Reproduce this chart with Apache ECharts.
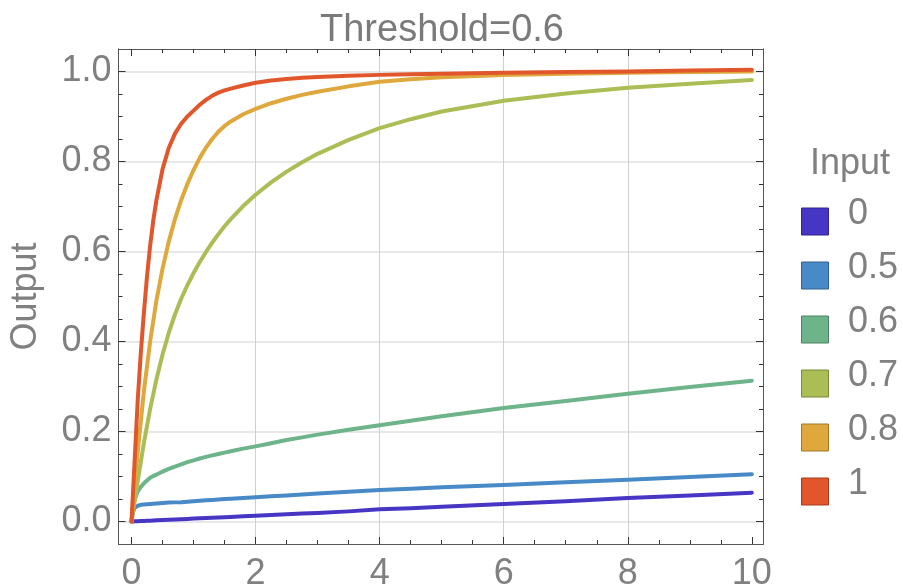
<!DOCTYPE html>
<html>
<head>
<meta charset="utf-8">
<script src="https://cdn.jsdelivr.net/npm/echarts@6/dist/echarts.min.js"></script>
<style>
  html, body { margin: 0; padding: 0; background: #fff; }
  #chart { width: 903px; height: 586px; }
</style>
</head>
<body>
<div id="chart"></div>
<script>
// Output response over time for several input levels (threshold 0.6)
const titleText = 'Threshold=0.6';
const legendTitle = 'Input';
const yName = 'Output';

const xs = [0, 0.02, 0.05, 0.1, 0.15, 0.2, 0.25, 0.3, 0.35, 0.4,
            0.5, 0.6, 0.7, 0.8, 0.9, 1, 1.1, 1.2, 1.3, 1.4,
            1.5, 1.6, 1.8, 2, 2.25, 2.5, 2.75, 3, 3.5, 4,
            4.5, 5, 6, 7, 8, 9, 10];

const inputNames = ['0', '0.5', '0.6', '0.7', '0.8', '1'];

const out0  = [0, 0.0001, 0.0003, 0.0006, 0.001, 0.0013, 0.0016, 0.0019, 0.0022, 0.0026,
               0.0032, 0.0038, 0.0045, 0.0051, 0.0058, 0.0064, 0.007, 0.0077, 0.0083, 0.009,
               0.0096, 0.0102, 0.0115, 0.013, 0.0144, 0.016, 0.0176, 0.019, 0.0225, 0.027,
               0.0295, 0.033, 0.039, 0.045, 0.052, 0.058, 0.064];
const out05 = [0, 0.02, 0.03, 0.035, 0.037, 0.038, 0.0385, 0.039, 0.0395, 0.04,
               0.041, 0.042, 0.0425, 0.043, 0.044, 0.045, 0.046, 0.047, 0.048, 0.049,
               0.05, 0.0505, 0.052, 0.054, 0.056, 0.058, 0.06, 0.062, 0.066, 0.07,
               0.073, 0.076, 0.081, 0.087, 0.093, 0.099, 0.105];
const out06 = [0, 0.03, 0.048, 0.067, 0.077, 0.085, 0.091, 0.097, 0.101, 0.104,
               0.111, 0.117, 0.122, 0.127, 0.132, 0.136, 0.140, 0.1435, 0.147, 0.150,
               0.153, 0.156, 0.162, 0.167, 0.174, 0.181, 0.187, 0.193, 0.204, 0.214,
               0.224, 0.234, 0.252, 0.268, 0.284, 0.299, 0.313];
const out07 = [0, 0.018, 0.045, 0.09, 0.1325, 0.175, 0.2125, 0.25, 0.2825, 0.315,
               0.371, 0.419, 0.46, 0.495, 0.525, 0.552, 0.5765, 0.599, 0.6195, 0.6385,
               0.656, 0.672, 0.701, 0.726, 0.7535, 0.7775, 0.7985, 0.817, 0.848, 0.874,
               0.894, 0.911, 0.935, 0.951, 0.964, 0.973, 0.981];
const out08 = [0, 0.031, 0.078, 0.155, 0.2225, 0.29, 0.345, 0.40, 0.445, 0.49,
               0.562, 0.622, 0.672, 0.714, 0.750, 0.781, 0.808, 0.831, 0.850, 0.866,
               0.879, 0.889, 0.905, 0.917, 0.9295, 0.9395, 0.948, 0.955, 0.967, 0.977,
               0.983, 0.987, 0.992, 0.995, 0.997, 0.999, 1.0];
const out1  = [0, 0.054, 0.135, 0.27, 0.375, 0.465, 0.545, 0.613, 0.668, 0.713,
               0.783, 0.830, 0.862, 0.884, 0.900, 0.913, 0.926, 0.937, 0.946, 0.953,
               0.958, 0.962, 0.969, 0.975, 0.980, 0.9835, 0.986, 0.988, 0.9905, 0.9925,
               0.994, 0.995, 0.997, 0.999, 1.0, 1.002, 1.004];

const outputs = [out0, out05, out06, out07, out08, out1];
const lineColors   = ['#4636c3', '#4889c7', '#6db48b', '#aabe55', '#dea83c', '#e1572b'];
const borderColors = ['#2f2490', '#33628f', '#4d8163', '#7a883a', '#a07828', '#a33d1d'];

// axis ranges and tick positions
const xMin = -0.21, xMax = 10.18;
const yMin = -0.05, yMax = 1.05;
const xMajor = [0, 2, 4, 6, 8, 10];
const xGrid = [2, 4, 6, 8];
const xMinor = [0.5, 1, 1.5, 2.5, 3, 3.5, 4.5, 5, 5.5, 6.5, 7, 7.5, 8.5, 9, 9.5];
const yMajor = [0, 0.2, 0.4, 0.6, 0.8, 1.0];
const yMinor = [0.05, 0.1, 0.15, 0.25, 0.3, 0.35, 0.45, 0.5, 0.55, 0.65, 0.7, 0.75, 0.85, 0.9, 0.95];

const labelColor = '#808080';
const frameColor = '#555555';
const tickColor = '#333333';
const FONT = 'Liberation Sans, Arial, sans-serif';

function frameAxis(position, min, max, ticks, len, extra) {
  return Object.assign({
    type: 'value',
    position: position,
    min: min,
    max: max,
    axisLine: { show: true, onZero: false, lineStyle: { color: frameColor, width: 1 } },
    axisTick: { show: true, inside: true, length: len, customValues: ticks,
                lineStyle: { color: tickColor, width: 1 } },
    axisLabel: { show: false },
    splitLine: { show: false }
  }, extra || {});
}

const xAxes = [
  frameAxis('bottom', xMin, xMax, xMajor, 7, {
    axisLabel: { show: true, customValues: xMajor, fontSize: 36, color: labelColor,
                 fontFamily: FONT, margin: 12, formatter: v => String(v) }
  }),
  frameAxis('bottom', xMin, xMax, xMinor, 4),
  frameAxis('top', xMin, xMax, xMajor, 7),
  frameAxis('top', xMin, xMax, xMinor, 4),
  {
    type: 'value', position: 'bottom', min: xMin, max: xMax,
    axisLine: { show: false, onZero: false },
    axisTick: { show: false, customValues: xGrid },
    axisLabel: { show: false },
    splitLine: { show: true, lineStyle: { color: '#cfcfcf', width: 1 } }
  }
];

const yAxes = [
  frameAxis('left', yMin, yMax, yMajor, 7, {
    name: yName,
    nameLocation: 'middle',
    nameGap: 74,
    nameTextStyle: { fontSize: 36, color: labelColor, fontFamily: FONT },
    axisLabel: { show: true, customValues: yMajor, fontSize: 36, color: labelColor,
                 fontFamily: FONT, margin: 7, formatter: v => v.toFixed(1) },
    splitLine: { show: true, lineStyle: { color: '#e0e0e0', width: 1.5 } }
  }),
  frameAxis('left', yMin, yMax, yMinor, 4),
  frameAxis('right', yMin, yMax, yMajor, 7),
  frameAxis('right', yMin, yMax, yMinor, 4)
];

const series = inputNames.map((name, i) => ({
  name: name,
  type: 'line',
  xAxisIndex: 0,
  yAxisIndex: 0,
  data: xs.map((x, k) => [x, outputs[i][k]]),
  showSymbol: false,
  smooth: false,
  lineStyle: { color: lineColors[i], width: 4, join: 'round', cap: 'round' },
  itemStyle: { color: lineColors[i], borderColor: borderColors[i], borderWidth: 1 },
  emphasis: { disabled: true },
  z: 10 + i
}));

// legend: swatches in one component, labels in a second one set slightly higher
const legendCommon = {
  orient: 'vertical',
  left: 801,
  padding: 0,
  itemWidth: 27,
  itemHeight: 27,
  itemGap: 18,
  selectedMode: false
};

const chart = echarts.init(document.getElementById('chart'), null, { renderer: 'canvas' });
chart.setOption({
  backgroundColor: '#ffffff',
  animation: false,
  title: [
    { text: titleText, left: 320, top: 12, padding: 0,
      textStyle: { fontSize: 38, fontWeight: 'normal', color: '#7a7a7a', fontFamily: FONT } },
    { text: legendTitle, left: 810, top: 146, padding: 0,
      textStyle: { fontSize: 36, fontWeight: 'normal', color: labelColor, fontFamily: FONT } }
  ],
  grid: { left: 118.5, right: 140, top: 49, bottom: 42, containLabel: false, outerBoundsMode: 'none' },
  legend: [
    Object.assign({}, legendCommon, {
      top: 203.5,
      icon: 'rect',
      formatter: () => ' ',
      textStyle: { fontSize: 36, color: labelColor, fontFamily: FONT },
      data: inputNames.map((n, i) => ({
        name: n,
        itemStyle: { color: lineColors[i], borderColor: borderColors[i], borderWidth: 1 }
      }))
    }),
    Object.assign({}, legendCommon, {
      top: 196,
      icon: 'none',
      textStyle: { fontSize: 36, color: labelColor, fontFamily: FONT, padding: [0, 0, 0, 15] },
      data: inputNames.slice()
    })
  ],
  xAxis: xAxes,
  yAxis: yAxes,
  series: series
});
</script>
</body>
</html>
